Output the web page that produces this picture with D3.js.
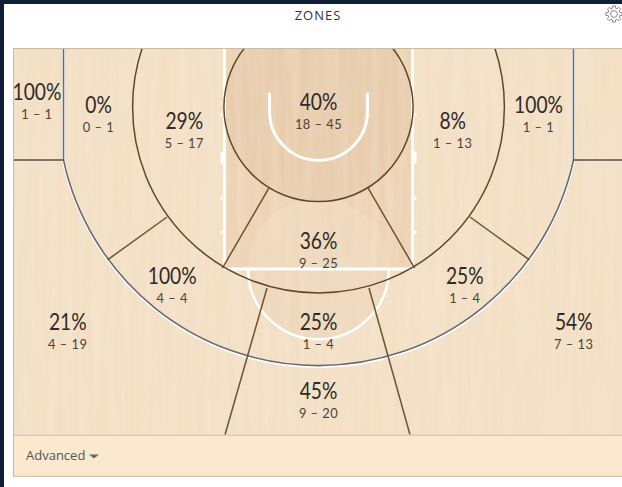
<!DOCTYPE html>
<html>
<head>
<meta charset="utf-8">
<script src="https://cdn.jsdelivr.net/npm/d3@7"></script>
<style>
html, body { margin: 0; padding: 0; background: #fff; overflow: hidden; }
svg { display: block; }
</style>
</head>
<body>
<svg id="zones"></svg>
<script>
// shooting zones
let makes    = [1, 0, 5, 18, 1, 1, 9, 4, 1, 1, 4, 7, 9];
let attempts = [1, 1, 17, 45, 13, 1, 25, 4, 4, 4, 19, 13, 20];
let percents = [100, 0, 29, 40, 8, 100, 36, 100, 25, 25, 21, 54, 45];

// label spots in court feet, basket at 0,0
let labelX = [-25.6, -20, -12.2, 0, 12.2, 20, 0, -13.3, 13.3, 0, -22.8, 23.2, 0];
let labelY = [-1.4, -0.2, 1.3, -0.5, 1.3, -0.2, 12.2, 15.4, 15.4, 19.5, 19.5, 19.5, 25.8];

// court lines in feet
let court = { left: -27.77, right: 27.6, top: -5.36, bottom: 29.8 };
let innerR = 8.6, midR = 16.9, threeR = 23.72, cornerX = 23.18, cornerY = 4.82;
let laneX = 8.55, ftY = 14.72, ftR = 6.4, rimR = 4.45, rimY = 0.4, rimTop = -1.3;
let laneTicks = [0.7, 4.6, 8.3, 11.4];
let brownLines = [
    [-4.5, 7.36, -8.73, 14.64],
    [4.5, 7.36, 8.73, 14.64],
    [-13.77, 10, -19.18, 13.9],
    [13.77, 10, 19.18, 13.9],
    [-4.68, 16.45, -8.5, 29.8],
    [4.59, 16.45, 8.32, 29.8]
];

let w = 622, h = 487;
let x = d3.scaleLinear().domain([-10, 10]).range([208.5, 428.5]);
let y = d3.scaleLinear().domain([0, 10]).range([107, 217]);
let px = d => x(d) - x(0); // feet to pixels for radii

let svg = d3.select("#zones").attr("width", w).attr("height", h);
let defs = svg.append("defs");

defs.append("clipPath").attr("id", "courtClip")
    .append("rect")
    .attr("x", x(court.left)).attr("y", y(court.top))
    .attr("width", x(court.right) - x(court.left))
    .attr("height", y(court.bottom) - y(court.top));

// vertical wood grain
let grain = defs.append("filter").attr("id", "grain")
    .attr("x", 0).attr("y", 0).attr("width", 1).attr("height", 1);
grain.append("feTurbulence")
    .attr("type", "fractalNoise")
    .attr("baseFrequency", "0.14 0.008")
    .attr("numOctaves", 3)
    .attr("seed", 4);
grain.append("feColorMatrix")
    .attr("values", "0 0 0 0 0.98  0 0 0 0 0.95  0 0 0 0 0.88  0 0 0 1.5 -0.35");

// page
svg.append("rect").attr("width", w).attr("height", h).attr("fill", "#fff");
svg.append("rect").attr("width", w).attr("height", 4).attr("fill", "#101f35");
svg.append("rect").attr("width", 4).attr("height", h).attr("fill", "#101f35");

svg.append("text")
    .attr("x", 318).attr("y", 20)
    .attr("text-anchor", "middle")
    .style("font", "13px 'Open Sans'")
    .style("letter-spacing", "1px")
    .attr("fill", "#333")
    .text("ZONES");

// gear, clipped by window edge
let gearPts = [];
for (let i = 0; i < 8; i++) {
    let a = i * Math.PI / 4;
    [[-0.27, 6], [-0.17, 8.2], [0.17, 8.2], [0.27, 6]].forEach(p => {
        gearPts.push([p[1] * Math.sin(a + p[0]), -p[1] * Math.cos(a + p[0])]);
    });
}
let gear = svg.append("g").attr("transform", "translate(614,14)")
    .attr("fill", "none").attr("stroke", "#8a8a8a");
gear.append("path").attr("d", d3.line().curve(d3.curveLinearClosed)(gearPts));
gear.append("circle").attr("r", 3.4);

// floor
let floor = svg.append("g").attr("clip-path", "url(#courtClip)");
floor.append("rect")
    .attr("x", x(court.left)).attr("y", y(court.top))
    .attr("width", x(court.right) - x(court.left))
    .attr("height", y(court.bottom) - y(court.top))
    .attr("fill", "#f3dfc4");
floor.append("rect")
    .attr("x", x(-laneX)).attr("y", y(court.top))
    .attr("width", x(laneX) - x(-laneX))
    .attr("height", y(ftY) - y(court.top))
    .attr("fill", "#edd2b3");
floor.append("circle")
    .attr("cx", x(0)).attr("cy", y(ftY)).attr("r", px(ftR))
    .attr("fill", "#efd8bb");
floor.append("circle")
    .attr("cx", x(0)).attr("cy", y(0)).attr("r", px(innerR))
    .attr("fill", "#e8ccac");
floor.append("rect")
    .attr("x", x(court.left)).attr("y", y(court.top))
    .attr("width", x(court.right) - x(court.left))
    .attr("height", y(court.bottom) - y(court.top))
    .attr("filter", "url(#grain)")
    .attr("opacity", 0.22);

// white painted lines
let paint = floor.append("g").attr("fill", "none").attr("stroke", "#fff");
[-laneX, laneX].forEach(lx => {
    paint.append("line")
        .attr("x1", x(lx)).attr("x2", x(lx))
        .attr("y1", y(court.top)).attr("y2", y(ftY))
        .attr("stroke-width", 3);
    laneTicks.forEach((t, i) => {
        let tall = i == 1;
        paint.append("line")
            .attr("x1", x(lx)).attr("x2", x(lx) + (lx < 0 ? -4 : 4))
            .attr("y1", y(t)).attr("y2", y(t))
            .attr("stroke-width", tall ? 12 : 3);
    });
});
paint.append("line")
    .attr("x1", x(-laneX)).attr("x2", x(laneX))
    .attr("y1", y(ftY)).attr("y2", y(ftY))
    .attr("stroke-width", 3);
paint.append("path")
    .attr("d", d3.arc()({ innerRadius: px(ftR), outerRadius: px(ftR), startAngle: Math.PI / 2, endAngle: Math.PI * 1.5 }))
    .attr("transform", `translate(${x(0)},${y(ftY)})`)
    .attr("stroke-width", 2.5);
paint.append("path")
    .attr("d", `M${x(-rimR)},${y(rimTop)} L${x(-rimR)},${y(rimY)}`
        + ` A${px(rimR)},${px(rimR)} 0 0 0 ${x(rimR)},${y(rimY)} L${x(rimR)},${y(rimTop)}`)
    .attr("stroke-width", 3);

// three point line, white edge under the grey one
let threePath = `M${x(-cornerX)},${y(court.top)} L${x(-cornerX)},${y(cornerY)}`
    + ` A${px(threeR)},${px(threeR)} 0 0 0 ${x(cornerX)},${y(cornerY)} L${x(cornerX)},${y(court.top)}`;
floor.append("path").attr("d", threePath).attr("fill", "none")
    .attr("stroke", "#fff").attr("stroke-width", 3)
    .attr("transform", "translate(0,1)");
floor.append("path").attr("d", threePath).attr("fill", "none")
    .attr("stroke", "#6a6a6e").attr("stroke-width", 1.6);

// zone borders
floor.selectAll("circle.zone")
    .data([innerR, midR])
    .enter()
    .append("circle")
    .classed("zone", true)
    .attr("cx", x(0)).attr("cy", y(0))
    .attr("r", d => px(d))
    .attr("fill", "none")
    .attr("stroke", "#5f4729")
    .attr("stroke-width", 1.5);
floor.selectAll("line.zone")
    .data(brownLines)
    .enter()
    .append("line")
    .classed("zone", true)
    .attr("x1", d => x(d[0])).attr("y1", d => y(d[1]))
    .attr("x2", d => x(d[2])).attr("y2", d => y(d[3]))
    .attr("stroke", "#6b5333")
    .attr("stroke-width", 1.5);
[[court.left, -cornerX], [cornerX, court.right]].forEach(d => {
    floor.append("line")
        .attr("x1", x(d[0])).attr("x2", x(d[1]))
        .attr("y1", y(cornerY)).attr("y2", y(cornerY))
        .attr("stroke", "#5b5044").attr("stroke-width", 1.5);
});
floor.append("rect")
    .attr("x", x(court.left) + 0.5).attr("y", y(court.top) + 0.5)
    .attr("width", w).attr("height", y(court.bottom) - y(court.top))
    .attr("fill", "none").attr("stroke", "#c9bba3");

// labels, narrowed since no condensed font is around
let labels = svg.selectAll("g.label")
    .data(makes)
    .enter()
    .append("g")
    .classed("label", true)
    .attr("transform", (d, i) => `translate(${x(labelX[i])},${y(labelY[i])})`)
    .attr("text-anchor", "middle")
    .attr("fill", "#2f2a25");
labels.append("text")
    .attr("transform", "translate(0,8) scale(0.8,1)")
    .style("font", "24px Lato")
    .text((d, i) => percents[i] + "%");
labels.append("text")
    .attr("transform", "translate(0,27) scale(0.92,1)")
    .style("font", "14px Lato")
    .style("letter-spacing", "0.5px")
    .attr("fill", "#4a4239")
    .text((d, i) => d + " \u2013 " + attempts[i]);

// footer
svg.append("rect")
    .attr("x", 13.5).attr("y", y(court.bottom) + 0.5)
    .attr("width", w).attr("height", 41)
    .attr("fill", "#fbe8cf").attr("stroke", "#c9bba3");
svg.append("text")
    .attr("x", 26).attr("y", 460)
    .style("font", "13px 'Open Sans'")
    .attr("fill", "#555")
    .text("Advanced");
svg.append("path")
    .attr("d", "M89,454.5 h10 l-5,4 z")
    .attr("fill", "#666");
</script>
</body>
</html>
